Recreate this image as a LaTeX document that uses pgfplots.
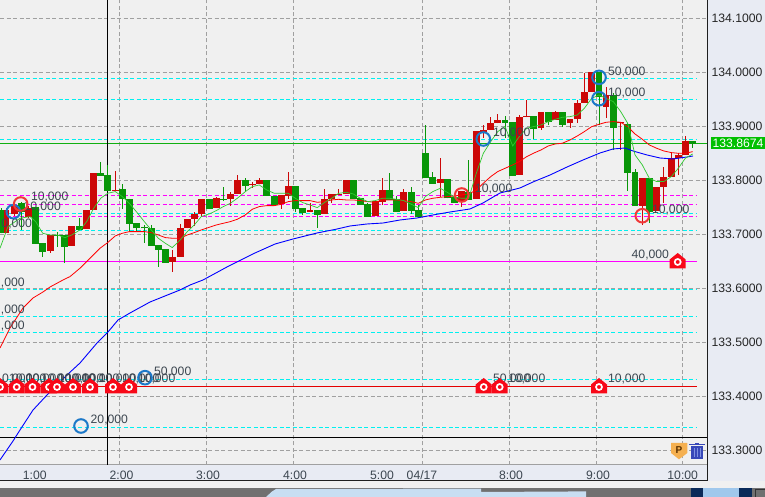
\documentclass[border=0pt]{standalone}
\usepackage{pgfplots}
\usepackage{fontspec}
\setmainfont{Liberation Sans}
\pgfplotsset{compat=1.18}
\usepackage{pgfplotstable}
\definecolor{plotbg}{HTML}{F0F0F0}
\definecolor{panel}{HTML}{E8EBF3}
\definecolor{gridc}{HTML}{A0A0A0}
\definecolor{cred}{HTML}{CC0808}
\definecolor{cgreen}{HTML}{089608}
\definecolor{magen}{HTML}{FF00FF}
\definecolor{cyanl}{HTML}{00F0F0}
\definecolor{curg}{HTML}{10B010}
\definecolor{tagg}{HTML}{00C000}
\definecolor{txt}{HTML}{3C4650}
\definecolor{hred}{HTML}{F80818}
\definecolor{ringb}{HTML}{1C78C8}
\definecolor{ringr}{HTML}{F03838}
\definecolor{malg}{HTML}{30C830}
\definecolor{strip}{HTML}{C8DEF2}
\definecolor{navy}{HTML}{0A2A58}
\definecolor{skyb}{HTML}{A0C8EC}
\definecolor{porange}{HTML}{F5B050}
\definecolor{pbrown}{HTML}{5A3000}
\definecolor{tblue}{HTML}{3848B8}
\definecolor{tpale}{HTML}{8090E0}
\pgfdeclareplotmark{house}{%
  \pgfsetfillcolor{hred}%
  \pgfpathmoveto{\pgfqpoint{-8pt}{-7.5pt}}%
  \pgfpathlineto{\pgfqpoint{8pt}{-7.5pt}}%
  \pgfpathlineto{\pgfqpoint{8pt}{1.5pt}}%
  \pgfpathlineto{\pgfqpoint{0pt}{8pt}}%
  \pgfpathlineto{\pgfqpoint{-8pt}{1.5pt}}%
  \pgfpathclose\pgfusepath{fill}%
  \pgfsetstrokecolor{white}\pgfsetlinewidth{1.7pt}%
  \pgfpathcircle{\pgfqpoint{0pt}{-1pt}}{3pt}\pgfusepath{stroke}%
}
\pgfdeclareplotmark{ring}{%
  \pgfsetlinewidth{2pt}%
  \pgfpathcircle{\pgfpointorigin}{6.8pt}\pgfusepath{stroke}%
}
\pgfplotstableread{
x lo bot top hi
6 133.7025 133.7025 133.7445 133.7476
14.5 133.7334 133.7371 133.7537 133.7568
28.7 133.7291 133.7322 133.7476 133.7519
50.3 133.6643 133.6686 133.6982 133.6982
71.3 133.6779 133.6779 133.7148 133.7148
86.3 133.7093 133.7093 133.7445 133.7445
93.7 133.7445 133.7445 133.8136 133.8136
115.3 133.7809 133.7809 133.7821 133.8167
172.3 133.6304 133.6489 133.6569 133.6705
180.3 133.6581 133.6581 133.7105 133.7186
187.3 133.7105 133.7105 133.7278 133.7278
194.3 133.7148 133.7278 133.7371 133.7414
201.3 133.7334 133.7371 133.7642 133.7642
216.3 133.7488 133.7488 133.7661 133.7680
230.3 133.7519 133.7642 133.7741 133.7784
237.3 133.7741 133.7741 133.8000 133.8093
252.3 133.7846 133.7914 133.7926 133.7970
259.3 133.7926 133.7926 133.8000 133.8031
281.3 133.7463 133.7550 133.7723 133.7723
288.3 133.7642 133.7710 133.7889 133.8155
310 133.7414 133.7414 133.7445 133.7568
324.3 133.7377 133.7377 133.7649 133.7828
331.7 133.7568 133.7649 133.7741 133.7741
338.7 133.7729 133.7729 133.7741 133.7828
346.3 133.7741 133.7741 133.8000 133.8000
375.3 133.7334 133.7334 133.7605 133.7605
382.3 133.7537 133.7593 133.7815 133.8031
403.7 133.7433 133.7433 133.7784 133.7828
440.3 133.7692 133.7945 133.8019 133.8401
461.7 133.7507 133.7599 133.7797 133.7797
476.3 133.7649 133.7649 133.8907 133.8907
483.3 133.8772 133.8895 133.8926 133.9018
490.7 133.8926 133.8926 133.9049 133.9173
497.7 133.9049 133.9049 133.9111 133.9222
519.3 133.8093 133.8093 133.9173 133.9204
526.7 133.9161 133.9161 133.9185 133.9482
541 133.8926 133.8957 133.9266 133.9266
555.3 133.9111 133.9111 133.9266 133.9284
570 133.8957 133.9050 133.9124 133.9124
577.3 133.9050 133.9124 133.9432 133.9482
584.3 133.9432 133.9432 133.9636 133.9988
591.7 133.9636 133.9636 134.0006 134.0006
606 133.9142 133.9358 133.9574 133.9728
620.7 133.8556 133.9050 133.9081 133.9081
642.3 133.7168 133.7526 133.8044 133.8044
656.7 133.7433 133.7433 133.7877 133.7877
663.7 133.7569 133.7877 133.8062 133.8235
671.3 133.8062 133.8062 133.8402 133.8494
678.3 133.8093 133.8402 133.8464 133.8494
685.3 133.8464 133.8464 133.8729 133.8815
}\redcandles
\pgfplotstableread{
x lo bot top hi
1 133.7013 133.7013 133.7445 133.7476
21.7 133.7075 133.7414 133.7568 133.7600
35.7 133.6816 133.6816 133.7507 133.7507
42.7 133.6569 133.6662 133.6828 133.6828
57.3 133.6767 133.6970 133.6988 133.7044
64.3 133.6458 133.6767 133.6982 133.6982
79.3 133.7075 133.7075 133.7148 133.7291
100.7 133.8074 133.8074 133.8136 133.8340
107.7 133.7803 133.7803 133.8093 133.8278
122.3 133.7457 133.7642 133.7828 133.7926
129.3 133.7062 133.7186 133.7642 133.7642
136.3 133.7044 133.7105 133.7204 133.7204
144.3 133.6828 133.7105 133.7124 133.7167
151.3 133.6779 133.6779 133.7105 133.7167
158.3 133.6396 133.6705 133.6791 133.6791
165.3 133.6470 133.6470 133.6717 133.6717
209.3 133.7463 133.7463 133.7642 133.7642
223.3 133.7630 133.7636 133.7649 133.7877
245.3 133.7784 133.7895 133.8000 133.8031
266.7 133.7710 133.7710 133.8000 133.8000
274.3 133.7537 133.7537 133.7710 133.7710
295.3 133.7414 133.7470 133.7889 133.7889
302.7 133.7352 133.7383 133.7482 133.7482
317.3 133.7106 133.7352 133.7445 133.7445
353.3 133.7649 133.7649 133.8000 133.8000
360.3 133.7537 133.7537 133.7661 133.7661
367.7 133.7322 133.7322 133.7556 133.7568
389.3 133.7630 133.7630 133.7815 133.8124
396.7 133.7414 133.7414 133.7642 133.7704
411.3 133.7371 133.7426 133.7784 133.7865
418.3 133.7291 133.7322 133.7445 133.7537
425.3 133.8044 133.8044 133.8506 133.9018
432.7 133.7926 133.7926 133.8056 133.8155
447.7 133.7661 133.7661 133.8019 133.8019
454.7 133.7581 133.7581 133.7692 133.7723
468.7 133.7630 133.7630 133.7784 133.8371
505 133.8772 133.9062 133.9111 133.9185
512.7 133.8075 133.8075 133.9081 133.9081
533.3 133.8754 133.8939 133.9185 133.9185
548.3 133.9019 133.9081 133.9266 133.9266
562.3 133.8988 133.9019 133.9266 133.9266
599 133.9019 133.9543 134.0006 134.0006
613.3 133.8556 133.8970 133.9574 133.9605
627.7 133.7803 133.8136 133.9031 133.9050
635 133.7526 133.7526 133.8155 133.8198
649.3 133.7211 133.7415 133.8044 133.8044
692.7 133.8587 133.8667 133.8717 133.8717
}\greencandles
\pgfplotstableread{
x y
0 133.6736
8 133.7137
20 133.7291
30 133.7322
35.7 133.7229
42.7 133.7013
50 133.6982
57.3 133.6982
65 133.6933
71.7 133.6982
80 133.7075
86.7 133.7229
93.7 133.7476
100.7 133.7661
107.7 133.7754
115.3 133.7785
122.3 133.7692
129.3 133.7568
136.3 133.7414
144.3 133.7229
151.3 133.7075
158.3 133.6921
165.3 133.6828
172.3 133.6748
180.3 133.6890
187.3 133.7044
194.3 133.7167
201.3 133.7322
209.3 133.7371
216.3 133.7433
223.3 133.7507
230.3 133.7568
237.3 133.7661
245.3 133.7784
252.3 133.7877
259.3 133.7908
266.7 133.7815
274.3 133.7753
281.3 133.7753
288.3 133.7753
295.3 133.7661
302.7 133.7581
310 133.7537
317.3 133.7488
324.3 133.7581
331.7 133.7661
338.7 133.7753
346.3 133.7772
353.3 133.7741
360.3 133.7661
367.7 133.7599
375.3 133.7618
382.3 133.7661
389.3 133.7661
396.7 133.7642
403.7 133.7618
411.3 133.7550
418.3 133.7488
425.3 133.7692
432.7 133.7784
440.3 133.7846
447.7 133.7766
454.7 133.7680
461.7 133.7661
468.7 133.7661
476.3 133.8124
483.3 133.8494
490.7 133.8710
497.7 133.8895
505 133.8990
512.7 133.8630
519.3 133.8803
526.7 133.8957
533.3 133.8988
541 133.9019
548.3 133.9081
555.3 133.9124
562.3 133.9161
570 133.9173
577.3 133.9204
584.3 133.9327
591.7 133.9512
599 133.9574
606 133.9512
613.3 133.9451
620.7 133.9266
627.7 133.9050
635 133.8464
642.3 133.8279
649.3 133.8032
656.7 133.7970
663.7 133.7970
671.3 133.8062
678.3 133.8217
685.3 133.8402
692.7 133.8482
}\greenma
\pgfplotstableread{
x y
0 133.4889
10 133.5259
23 133.5630
33 133.5815
43 133.5926
50 133.6018
63 133.6148
70 133.6211
80 133.6366
88.3 133.6520
100 133.6736
107.7 133.6841
115.3 133.6964
122.3 133.7013
129.3 133.7044
136.3 133.7044
144.3 133.7044
151.3 133.7025
158.3 133.6982
165.3 133.6933
172.3 133.6921
180.3 133.6921
187.3 133.6982
194.3 133.7025
201.3 133.7075
209.3 133.7124
216.3 133.7167
223.3 133.7198
230.3 133.7229
237.3 133.7272
245.3 133.7353
252.3 133.7458
259.3 133.7507
266.7 133.7525
274.3 133.7525
281.3 133.7550
288.3 133.7599
295.3 133.7618
302.7 133.7618
310 133.7618
317.3 133.7587
324.3 133.7599
331.7 133.7630
338.7 133.7642
346.3 133.7630
353.3 133.7630
360.3 133.7618
367.7 133.7599
375.3 133.7587
382.3 133.7630
389.3 133.7630
396.7 133.7630
403.7 133.7618
411.3 133.7599
418.3 133.7568
425.3 133.7630
432.7 133.7661
440.3 133.7680
447.7 133.7692
454.7 133.7704
461.7 133.7723
468.7 133.7741
476.3 133.7815
483.3 133.7939
490.7 133.8062
497.7 133.8155
505 133.8216
512.7 133.8279
519.3 133.8340
526.7 133.8433
533.3 133.8494
541 133.8556
548.3 133.8630
555.3 133.8667
562.3 133.8680
570 133.8741
577.3 133.8815
584.3 133.8895
591.7 133.8988
599 133.9031
606 133.9068
613.3 133.9081
620.7 133.9068
627.7 133.8988
635 133.8852
642.3 133.8754
649.3 133.8649
656.7 133.8587
663.7 133.8538
671.3 133.8507
678.3 133.8494
685.3 133.8494
692.7 133.8525
}\redma
\pgfplotstableread{
x y
0 133.2815
13 133.3166
20 133.3370
33 133.3740
47 133.4018
67 133.4389
80 133.4611
97 133.4981
108 133.5185
118 133.5407
130 133.5537
150 133.5740
165 133.5852
180 133.5963
190 133.6055
203 133.6148
227 133.6389
255 133.6648
275 133.6814
293 133.6907
317 133.7018
337 133.7092
350 133.7148
367 133.7185
383 133.7203
400 133.7259
417 133.7296
433 133.7352
450 133.7407
470 133.7463
483 133.7574
500 133.7759
520 133.7852
533 133.7963
550 133.8092
567 133.8240
583 133.8370
600 133.8500
613 133.8574
625 133.8592
633 133.8537
647 133.8463
660 133.8407
673 133.8389
687 133.8426
693 133.8444
}\bluema
\newcommand{\lab}[3]{\node[anchor=base west,inner sep=0pt,outer sep=0pt,text=txt,font=\fontsize{12.2}{12.2}\selectfont] at (axis cs:#1,#2) {#3};}
\begin{document}
\begin{tikzpicture}[x=1pt,y=1pt]
\path[use as bounding box,fill=plotbg] (0,0) rectangle (765,497);
\fill[panel] (707.5,16) rectangle (765,497);
\fill[panel] (0,16) rectangle (707.5,32.5);
\fill[black!56] (0,0) rectangle (765,8.8);
\fill[gridc] (0,32) rectangle (707.5,33);
\fill[black!88] (0,15.5) rectangle (708,16.5);
\fill[black!88] (707,16) rectangle (708,497);
\fill[strip] (266,0) -- (272,5.5) -- (276,8) -- (481,8.4) -- (481,5) -- (586,5.6) -- (586,0) -- cycle;
\fill[navy] (690.7,0) rectangle (702.7,8.8);
\fill[skyb] (702.7,0) rectangle (738.5,8.8);
\fill[navy] (738.5,0) rectangle (752,8.8);
\draw[black!80,line width=1pt] (755,0) -- (755,7) -- (765,7);
\begin{axis}[
  at={(0pt,32pt)},anchor=south west,
  scale only axis,width=707pt,height=465pt,
  xmin=0,xmax=707,ymin=133.2722,ymax=134.1333,
  axis line style={draw=none},
  major tick length=0pt,
  scaled y ticks=false,scaled x ticks=false,
  ymajorgrids,xmajorgrids,
  major grid style={color=gridc,line width=0.9pt,dash pattern=on 4pt off 2.5pt},
  ytick={133.3,133.4,133.5,133.6,133.7,133.8,133.9,134.0,134.1},
  yticklabel pos=right,
  y tick label style={/pgf/number format/fixed,/pgf/number format/fixed zerofill,/pgf/number format/precision=4,/pgf/number format/1000 sep={},/pgf/number format/assume math mode=true,anchor=west,xshift=1pt,text=black!85,font=\fontsize{12.2}{12.2}\selectfont},
  xtick={119.5,206,293,422,509,596,682.7},
  xticklabels={\kern4pt 2:00,\kern4pt 3:00,\kern4pt 4:00,04/17,\kern4pt 8:00,\kern4pt 9:00,10:00},
  extra x ticks={34.7,382},
  extra x tick labels={1:00,5:00},
  extra x tick style={grid=none,major tick length=0pt},
  x tick label style={anchor=center,yshift=-10.5pt,text=txt,font=\fontsize{12.2}{12.2}\selectfont},
]
% price levels
\addplot[cyanl,line width=0.9pt,dash pattern=on 4pt off 2.5pt] coordinates {(0,133.9879)(697,133.9879)};
\addplot[cyanl,line width=0.9pt,dash pattern=on 4pt off 2.5pt] coordinates {(0,133.9494)(697,133.9494)};
\addplot[cyanl,line width=0.9pt,dash pattern=on 4pt off 2.5pt] coordinates {(0,133.8753)(697,133.8753)};
\addplot[cyanl,line width=0.9pt,dash pattern=on 4pt off 2.5pt] coordinates {(0,133.7389)(697,133.7389)};
\addplot[cyanl,line width=0.9pt,dash pattern=on 4pt off 2.5pt] coordinates {(0,133.7074)(697,133.7074)};
\addplot[cyanl,line width=0.9pt,dash pattern=on 4pt off 2.5pt] coordinates {(0,133.5981)(697,133.5981)};
\addplot[cyanl,line width=0.9pt,dash pattern=on 4pt off 2.5pt] coordinates {(0,133.5481)(697,133.5481)};
\addplot[cyanl,line width=0.9pt,dash pattern=on 4pt off 2.5pt] coordinates {(0,133.5185)(697,133.5185)};
\addplot[cyanl,line width=0.9pt,dash pattern=on 4pt off 2.5pt] coordinates {(0,133.4314)(697,133.4314)};
\addplot[cyanl,line width=0.9pt,dash pattern=on 4pt off 2.5pt] coordinates {(0,133.3426)(697,133.3426)};
\addplot[magen,line width=0.9pt,dash pattern=on 4pt off 2.5pt] coordinates {(0,133.7722)(697,133.7722)};
\addplot[magen,line width=0.9pt,dash pattern=on 4pt off 2.5pt] coordinates {(0,133.7555)(697,133.7555)};
\addplot[magen,line width=0.9pt,dash pattern=on 4pt off 2.5pt] coordinates {(0,133.7333)(697,133.7333)};
\addplot[magen,line width=0.9pt] coordinates {(0,133.6500)(697,133.6500)};
\addplot[red!90!black,line width=0.8pt] coordinates {(0,133.4185)(697,133.4185)};
\addplot[curg,line width=1pt] coordinates {(0,133.8674)(707,133.8674)};
\addplot[black,line width=1pt] coordinates {(0,133.3222)(707,133.3222)};
\addplot[black,line width=1pt] coordinates {(107.3,133.2722)(107.3,134.1333)};
% wicks and bodies
\addplot[draw=none,no marks,error bars/.cd,y dir=both,y explicit,error mark=none,error bar style={line width=1pt,draw=cred}]
  table[x=x,y=bot,y error plus expr=\thisrow{hi}-\thisrow{bot},y error minus expr=\thisrow{bot}-\thisrow{lo}] {\redcandles};
\addplot[draw=none,no marks,error bars/.cd,y dir=both,y explicit,error mark=none,error bar style={line width=1pt,draw=cgreen}]
  table[x=x,y=bot,y error plus expr=\thisrow{hi}-\thisrow{bot},y error minus expr=\thisrow{bot}-\thisrow{lo}] {\greencandles};
\addplot[draw=none,no marks,error bars/.cd,y dir=plus,y explicit,error mark=none,error bar style={line width=6.6pt,draw=cred}]
  table[x=x,y=bot,y error plus expr=\thisrow{top}-\thisrow{bot}] {\redcandles};
\addplot[draw=none,no marks,error bars/.cd,y dir=plus,y explicit,error mark=none,error bar style={line width=6.6pt,draw=cgreen}]
  table[x=x,y=bot,y error plus expr=\thisrow{top}-\thisrow{bot}] {\greencandles};
% moving averages
\addplot[blue,line width=0.9pt] table[x=x,y=y] {\bluema};
\addplot[red,line width=0.8pt] table[x=x,y=y] {\redma};
\addplot[malg,line width=0.7pt] table[x=x,y=y] {\greenma};
% order markers
\addplot[only marks,mark=house] coordinates {(0,133.4185)(16.7,133.4185)(32.5,133.4185)(49,133.4185)(57,133.4185)(73,133.4185)(90,133.4185)(113,133.4185)(129,133.4185)(483.7,133.4185)(499.7,133.4185)(599,133.4185)(677.7,133.6500)};
\addplot[only marks,ringb,mark=ring] coordinates {(13.3,133.7413)(483.3,133.8759)(599,133.9900)(599,133.9505)(81,133.3444)(145,133.4339)};
\addplot[only marks,ringr,mark=ring] coordinates {(20.7,133.7555)(461.7,133.7722)(642.3,133.7338)};
% order sizes
\lab{2}{133.4252}{0,000}
\lab{9}{133.4252}{10,000}
\lab{26}{133.4252}{10,000}
\lab{41}{133.4252}{10,000}
\lab{58}{133.4252}{10,000}
\lab{66}{133.4252}{10,000}
\lab{82}{133.4252}{10,000}
\lab{99}{133.4252}{10,000}
\lab{122}{133.4252}{10,000}
\lab{138}{133.4252}{10,000}
\lab{493}{133.4252}{50,000}
\lab{508}{133.4252}{10,000}
\lab{608}{133.4252}{10,000}
\lab{154}{133.4381}{50,000}
\lab{90.7}{133.3492}{20,000}
\lab{631.7}{133.6548}{40,000}
\lab{608}{133.9937}{50,000}
\lab{608}{133.9548}{10,000}
\lab{493}{133.8807}{10,000}
\lab{475}{133.7770}{10,000}
\lab{652}{133.7381}{10,000}
\lab{31}{133.7611}{10,000}
\lab{23.5}{133.7437}{10,000}
\lab{1.5}{133.7116}{0,000}
\lab{1}{133.6029}{,000}
\lab{1}{133.5529}{,000}
\lab{1}{133.5233}{,000}
\end{axis}
\fill[tagg] (711,348) rectangle (765,360);
\node[text=white,inner sep=0pt,font=\fontsize{12.2}{12.2}\selectfont] at (738,354) {133.8674};
\fill[porange] (671,54) -- (687.3,54) -- (687.3,44) -- (679,37.7) -- (671,44) -- cycle;
\node[text=pbrown,inner sep=0pt,font=\fontsize{10}{10}\selectfont\bfseries] at (679,47) {P};
\fill[tblue] (689,51.5) rectangle (705,53);
\fill[tblue] (695,53) rectangle (699,54.2);
\fill[tblue] (691,38) rectangle (703,50.8);
\fill[tpale] (693.6,40) rectangle (694.4,49);
\fill[tpale] (696.6,40) rectangle (697.4,49);
\fill[tpale] (699.6,40) rectangle (700.4,49);
\end{tikzpicture}
\end{document}
